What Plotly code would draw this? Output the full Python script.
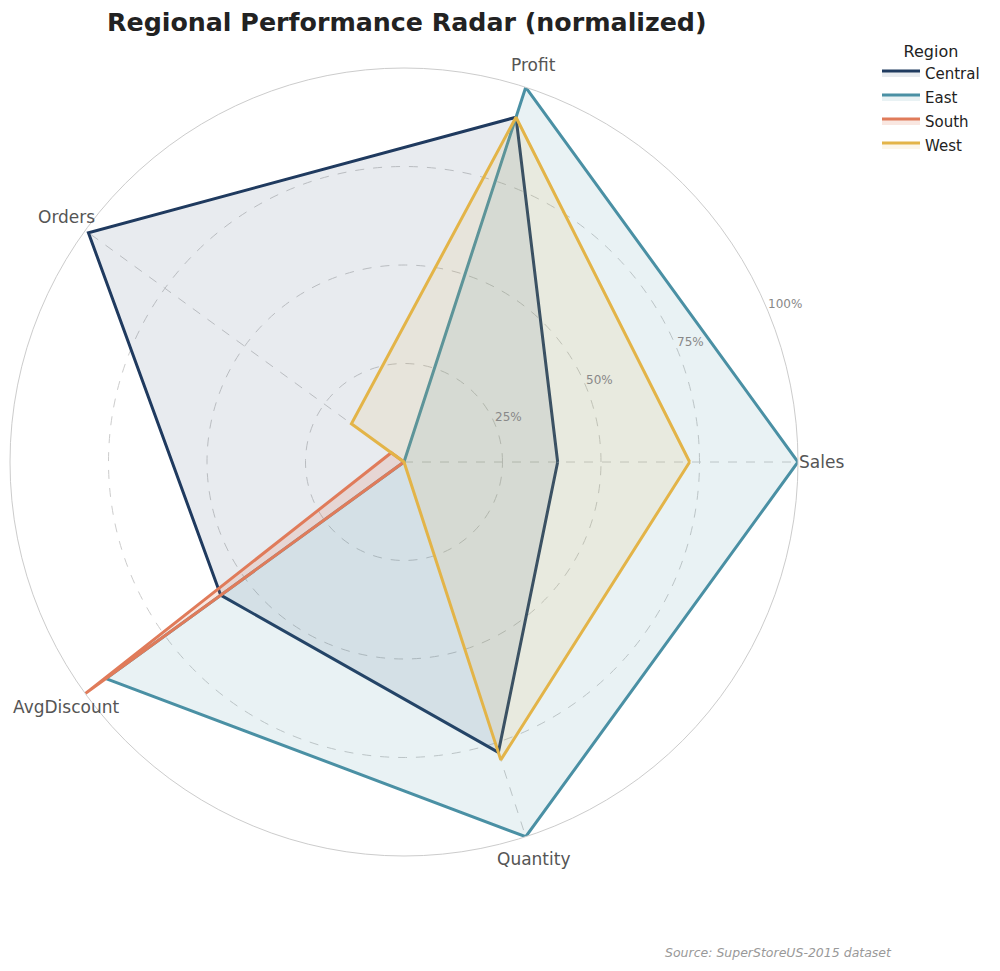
import math
import plotly.graph_objects as go

metrics = ["Sales", "Profit", "Orders", "AvgDiscount", "Quantity"]
metric_angles = [0, 72, 144, 216, 288]
regions = ["Central", "East", "South", "West"]
central = [0.39, 0.92, 0.99, 0.575, 0.775]
east = [1.0, 1.0, 0.0, 0.935, 1.0]
south = [0.0, 0.0, 0.04, 1.0, 0.0]
west = [0.725, 0.92, 0.165, 0.0, 0.795]
values = [central, east, south, west]
colors = ["#1f3a5f", "#4a90a4", "#e07b5a", "#e3b448"]
fills = ["rgba(31,58,95,0.10)", "rgba(74,144,164,0.12)", "rgba(224,123,90,0.18)", "rgba(227,180,72,0.12)"]
radial_ticks = [0.25, 0.5, 0.75, 1.0]
radial_labels = ["25%", "50%", "75%", "100%"]

W, H = 1000, 971
DOM_X = [0.010, 0.798]
DOM_Y = [0.1184, 0.930]
TICK_ANGLE = 22.5
LABEL_R = 1.06  # category labels sit just outside the outer ring (fraction of radius)

fig = go.Figure()
for name, vals, c, fc in zip(regions, values, colors, fills):
    fig.add_trace(go.Scatterpolar(
        r=vals + [vals[0]], theta=metric_angles + [metric_angles[0]], name=name,
        legendgroup=name, mode="lines", fill="toself", fillcolor=fc,
        line=dict(color=c, width=3),
    ))

# radial tick labels
fig.add_trace(go.Scatterpolar(
    r=radial_ticks, theta=[TICK_ANGLE] * len(radial_ticks),
    text=radial_labels, mode="text", textposition="top right",
    textfont=dict(size=12, color="#888888"),
    showlegend=False, hoverinfo="skip", cliponaxis=False,
))

# category labels placed outside the ring, derived from the polar domain geometry
cx = (DOM_X[0] + DOM_X[1]) / 2 * W
cy = (DOM_Y[0] + DOM_Y[1]) / 2 * H
rad_px = min((DOM_X[1] - DOM_X[0]) * W, (DOM_Y[1] - DOM_Y[0]) * H) / 2
annotations = []
for m, a in zip(metrics, metric_angles):
    px = cx + LABEL_R * rad_px * math.cos(math.radians(a))
    py = cy + LABEL_R * rad_px * math.sin(math.radians(a))
    annotations.append(dict(text=m, x=px / W, y=py / H, xref="paper", yref="paper",
                            xanchor="center", yanchor="middle", showarrow=False,
                            font=dict(size=17, color="#555555")))
annotations.append(dict(text="<i>Source: SuperStoreUS-2015 dataset</i>", x=0.894, y=0.019,
                        xref="paper", yref="paper", xanchor="right", yanchor="middle",
                        showarrow=False, font=dict(size=12.5, color="#999999")))

fig.update_layout(
    width=W, height=H,
    margin=dict(l=0, r=0, t=0, b=0),
    paper_bgcolor="white",
    font=dict(family="DejaVu Sans", color="#555555"),
    title=dict(text="<b>Regional Performance Radar (normalized)</b>", x=0.107, xanchor="left",
               y=0.977, yanchor="middle", font=dict(size=25.3, color="#222222")),
    polar=dict(
        domain=dict(x=DOM_X, y=DOM_Y),
        bgcolor="white",
        angularaxis=dict(direction="counterclockwise", rotation=0, thetaunit="degrees",
                         tickvals=metric_angles, showticklabels=False,
                         showline=True, linecolor="#cccccc", linewidth=1,
                         gridcolor="#cccccc", griddash="dash", gridwidth=1,
                         ticks=""),
        radialaxis=dict(range=[0, 1], tickvals=radial_ticks, showticklabels=False,
                        angle=TICK_ANGLE, showline=False, ticks="",
                        gridcolor="#cccccc", griddash="dash", gridwidth=1),
    ),
    legend=dict(title=dict(text="Region", font=dict(size=16, color="#222222"), side="top center"),
                x=0.877, y=0.963, xanchor="left", yanchor="top", itemwidth=38,
                tracegroupgap=1.5,
                font=dict(size=15, color="#222222"), bgcolor="rgba(0,0,0,0)"),
    annotations=annotations,
)
fig.write_html("out.html")
